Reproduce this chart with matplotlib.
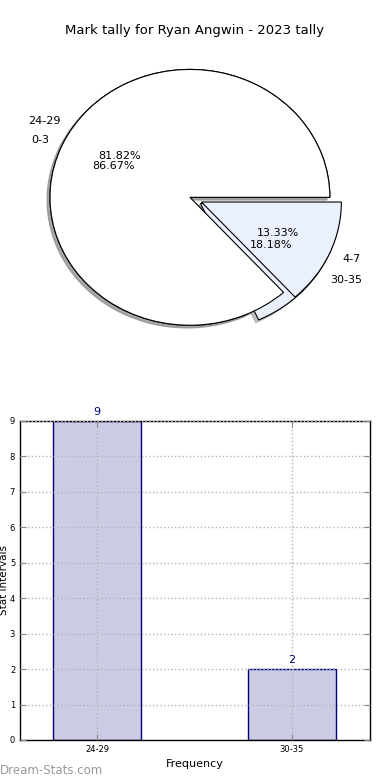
import matplotlib
matplotlib.use("Agg")
import matplotlib.pyplot as plt

title = "Mark tally for Ryan Angwin - 2023 tally"
pie1_labels = ["24-29", "30-35"]
pie1_values = [9, 2]
pie2_labels = ["0-3", "4-7"]
pie2_values = [13, 2]
pie_colors = ["#ffffff", "#eaf0fd"]

bar_labels = ["24-29", "30-35"]
bar_values = [9, 2]

fig = plt.figure(figsize=(3.9, 7.8), dpi=100)

# Pie chart
axp = fig.add_axes([0.0385, 0.542, 0.897, 0.410])
for labels, values in ((pie1_labels, pie1_values), (pie2_labels, pie2_values)):
    wedges, texts, autotexts = axp.pie(
        values, labels=labels, colors=pie_colors, explode=[0, 0.09],
        autopct="%1.2f%%",
        shadow={"ox": -0.015, "oy": -0.015, "shade": 0.45},
        startangle=0, counterclock=True,
        wedgeprops=dict(edgecolor="black", linewidth=0.8),
        textprops=dict(fontsize=8))
axp.set_aspect("auto")
axp.set_xlim(-1.25, 1.25)
axp.set_ylim(-1.25, 1.25)

fig.text(0.5, 0.961, title, ha="center", va="center", fontsize=9.5)

# Bar chart
axb = fig.add_axes([0.0513, 0.0513, 0.897, 0.409])
x = list(range(len(bar_labels)))
bars = axb.bar(x, bar_values, width=0.45, color="#ccccE4", edgecolor="#000080",
               linewidth=1.0, zorder=1)
for xi, v in zip(x, bar_values):
    axb.text(xi, v + 0.12, str(v), ha="center", va="bottom", fontsize=8, color="#000080")
axb.set_xlim(-0.395, 1.40)
axb.set_ylim(0, 9)
axb.set_yticks(range(0, 10))
axb.set_xticks(x)
axb.set_xticklabels(bar_labels)
axb.tick_params(direction="in", labelsize=6, length=4, color="#888888",
                top=True, right=True)
axb.grid(True, linestyle=":", color="#b4b4b4", linewidth=1.0, zorder=2)
axb.set_axisbelow(False)
axb.set_xlabel("Frequency", fontsize=8, labelpad=4)
axb.set_ylabel("Stat Intervals", fontsize=7.5)
axb.yaxis.set_label_coords(-0.031, 0.5)
for s in axb.spines.values():
    s.set_linewidth(1.0)

fig.text(0.0, 0.0125, "Dream-Stats.com", ha="left", va="center", fontsize=8.5,
         color="#999999")

fig.savefig("out.png", dpi=100)
